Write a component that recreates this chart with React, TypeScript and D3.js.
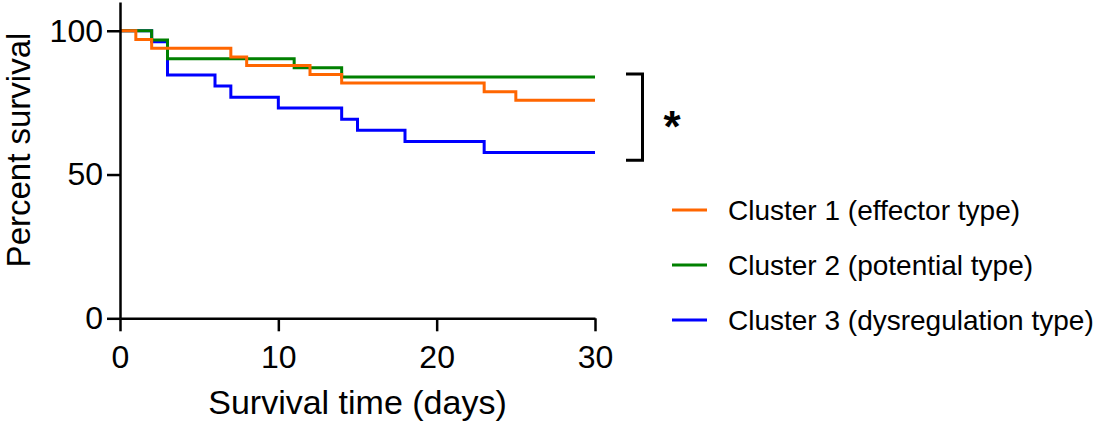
import * as d3 from 'd3';
import React, { useEffect, useRef } from 'react';

// Kaplan-Meier steps (day, percent survival)
const cluster1Days = [0, 1, 2, 7, 8, 12, 14, 23, 25, 30];
const cluster1Surv = [100, 97, 93.9, 90.9, 87.9, 84.8, 81.8, 78.8, 75.8, 75.8];
const cluster2Days = [0, 2, 3, 11, 14, 30];
const cluster2Surv = [100, 96.8, 90.3, 87.1, 83.9, 83.9];
const cluster3Days = [0, 2, 3, 6, 7, 10, 14, 15, 18, 23, 30];
const cluster3Surv = [100, 96.2, 84.6, 80.8, 76.9, 73.1, 69.2, 65.4, 61.5, 57.7, 57.7];

const clusterLabels = [
  'Cluster 1 (effector type)',
  'Cluster 2 (potential type)',
  'Cluster 3 (dysregulation type)',
];
const clusterColors = ['#ff6600', '#008000', '#0000ff'];

const xTicks = [0, 10, 20, 30];
const yTicks = [0, 50, 100];
const bracketRange = [85, 55];

const FONT = "'Liberation Sans', Arial, sans-serif";

const App = () => {
  const svgRef = useRef(null);

  useEffect(() => {
    const svg = d3.select(svgRef.current);
    svg.selectAll('*').remove();

    const xScale = d3.scaleLinear().domain([0, 30]).range([120, 595]);
    const yScale = d3.scaleLinear().domain([0, 110]).range([318.3, 2]);

    const series = [
      { days: cluster1Days, surv: cluster1Surv },
      { days: cluster2Days, surv: cluster2Surv },
      { days: cluster3Days, surv: cluster3Surv },
    ];

    const stepLine = d3
      .line<[number, number]>()
      .x((d) => xScale(d[0]))
      .y((d) => yScale(d[1]))
      .curve(d3.curveStepAfter);

    // draw blue first, orange last (orange sits on top)
    [2, 1, 0].forEach((i) => {
      const pts = series[i].days.map((d, j): [number, number] => [d, series[i].surv[j]]);
      svg
        .append('path')
        .attr('d', stepLine(pts))
        .attr('fill', 'none')
        .attr('stroke', clusterColors[i])
        .attr('stroke-width', 3);
    });

    const yAxis = svg
      .append('g')
      .attr('transform', 'translate(120,0)')
      .call(d3.axisLeft(yScale).tickValues(yTicks).tickSize(13).tickSizeOuter(0).tickPadding(4));
    const xAxis = svg
      .append('g')
      .attr('transform', 'translate(0,318.3)')
      .call(d3.axisBottom(xScale).tickValues(xTicks).tickSize(13).tickSizeOuter(0).tickPadding(14));

    [yAxis, xAxis].forEach((g) => {
      g.select('.domain').attr('stroke', '#000').attr('stroke-width', 2.5);
      g.selectAll('.tick line').attr('stroke', '#000').attr('stroke-width', 2.5);
      g.selectAll('.tick text')
        .attr('fill', '#000')
        .attr('font-family', FONT)
        .attr('font-size', 32);
    });

    svg
      .append('text')
      .attr('x', 357.5)
      .attr('y', 414)
      .attr('text-anchor', 'middle')
      .attr('font-family', FONT)
      .attr('font-size', 34)
      .text('Survival time (days)');

    svg
      .append('text')
      .attr('transform', 'translate(30,150) rotate(-90)')
      .attr('text-anchor', 'middle')
      .attr('font-family', FONT)
      .attr('font-size', 33)
      .text('Percent survival');

    // significance bracket
    const by0 = yScale(bracketRange[0]);
    const by1 = yScale(bracketRange[1]);
    svg
      .append('path')
      .attr('d', `M626,${by0}H642.5V${by1}H626`)
      .attr('fill', 'none')
      .attr('stroke', '#000')
      .attr('stroke-width', 3);
    svg
      .append('text')
      .attr('x', 672)
      .attr('y', (by0 + by1) / 2 + 25)
      .attr('text-anchor', 'middle')
      .attr('font-family', FONT)
      .attr('font-weight', 'bold')
      .attr('font-size', 44)
      .text('*');

    // legend
    const legend = svg
      .selectAll('g.legend')
      .data(clusterLabels)
      .join('g')
      .attr('class', 'legend')
      .attr('transform', (d, i) => `translate(672,${210 + i * 55})`);
    legend
      .append('line')
      .attr('x1', 0)
      .attr('x2', 35)
      .attr('stroke', (d, i) => clusterColors[i])
      .attr('stroke-width', 3);
    legend
      .append('text')
      .attr('x', 56)
      .attr('dy', '0.35em')
      .attr('font-family', FONT)
      .attr('font-size', 28)
      .text((d) => d);
  }, []);

  return (
    <svg
      ref={svgRef}
      width={1100}
      height={426}
      style={{ position: 'absolute', left: 0, top: 0, background: '#fff' }}
    />
  );
};

export default App;
